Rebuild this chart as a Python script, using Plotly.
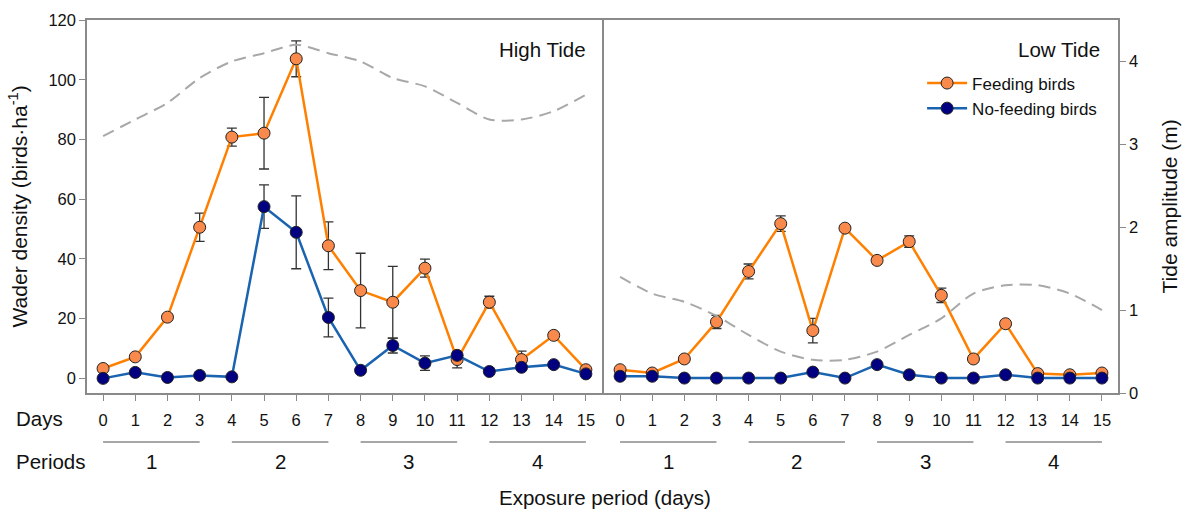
import plotly.graph_objects as go

# ---------------- data ----------------
days = list(range(16))
day_labels = [str(d) for d in days]

high_feed = [3.3, 7.2, 20.5, 50.6, 80.8, 82.1, 107.0, 44.4, 29.4, 25.5, 36.9, 6.3, 25.5, 6.3, 14.4, 2.9]
high_feed_err = [0.8, 1.0, 1.0, 4.7, 3.0, 12.0, 6.0, 8.0, 12.5, 12.0, 3.0, 2.8, 2.0, 2.8, 1.0, 0.8]
high_nofeed = [0.0, 2.0, 0.3, 1.0, 0.5, 57.5, 48.9, 20.4, 2.7, 11.0, 5.1, 7.7, 2.3, 3.7, 4.6, 1.5]
high_nofeed_err = [0.3, 0.8, 0.3, 0.5, 0.3, 7.3, 12.2, 6.5, 0.8, 2.5, 2.4, 1.0, 0.5, 0.5, 0.5, 0.5]

low_feed = [2.9, 1.8, 6.5, 18.9, 35.8, 51.8, 16.0, 50.3, 39.5, 45.8, 27.8, 6.5, 18.3, 1.6, 1.2, 1.8]
low_feed_err = [0.5, 0.5, 1.0, 2.2, 2.5, 2.6, 4.1, 1.0, 1.2, 1.9, 2.4, 1.0, 1.0, 0.5, 0.5, 0.5]
low_nofeed = [0.7, 0.7, 0.1, 0.1, 0.1, 0.1, 2.1, 0.1, 4.6, 1.2, 0.1, 0.1, 1.2, 0.1, 0.1, 0.1]
low_nofeed_err = [0.3, 0.3, 0.2, 0.2, 0.2, 0.2, 0.5, 0.2, 0.6, 0.4, 0.2, 0.2, 0.3, 0.2, 0.2, 0.2]

high_tide = [3.1, 3.3, 3.5, 3.8, 4.0, 4.1, 4.2, 4.1, 4.0, 3.8, 3.7, 3.5, 3.3, 3.3, 3.4, 3.6]
low_tide = [1.4, 1.2, 1.1, 0.93, 0.7, 0.5, 0.4, 0.4, 0.5, 0.7, 0.9, 1.2, 1.3, 1.3, 1.2, 1.0]

periods = ["1", "2", "3", "4"]
period_days = [(0, 3), (4, 7), (8, 11), (12, 15)]

density_ticks = [0, 20, 40, 60, 80, 100, 120]
tide_ticks = [0, 1, 2, 3, 4]

# ---------------- style ----------------
FONT = "Liberation Sans, Arial, sans-serif"
ORANGE_LINE = "#FF8000"
ORANGE_FILL = "#F98A4C"
BLUE_LINE = "#1A63B0"
BLUE_FILL = "#000080"
GRAY_AX = "#8a8a8a"
DASH_GRAY = "#A8A8A8"
ERR_COL = "#333333"

fig = go.Figure()

panels = [
    ("x", "y", "y3", high_feed, high_feed_err, high_nofeed, high_nofeed_err, high_tide, True),
    ("x2", "y2", "y4", low_feed, low_feed_err, low_nofeed, low_nofeed_err, low_tide, False),
]

for xa, ya, yt, feed, feed_err, nofeed, nofeed_err, tide, first in panels:
    fig.add_trace(go.Scatter(
        x=days, y=tide, xaxis=xa, yaxis=yt, mode="lines",
        line=dict(color=DASH_GRAY, width=2, dash="12px,7px", shape="spline", smoothing=0.8),
        showlegend=False, hoverinfo="skip"))
for xa, ya, yt, feed, feed_err, nofeed, nofeed_err, tide, first in panels:
    fig.add_trace(go.Scatter(
        x=days, y=feed, xaxis=xa, yaxis=ya, mode="lines+markers",
        name="Feeding birds", showlegend=first,
        line=dict(color=ORANGE_LINE, width=2.5),
        marker=dict(size=12, color=ORANGE_FILL, line=dict(color="#222222", width=1)),
        error_y=dict(type="data", array=feed_err, visible=True, color=ERR_COL, thickness=1.3, width=5)))
    fig.add_trace(go.Scatter(
        x=days, y=nofeed, xaxis=xa, yaxis=ya, mode="lines+markers",
        name="No-feeding birds", showlegend=first,
        line=dict(color=BLUE_LINE, width=2.5),
        marker=dict(size=12, color=BLUE_FILL, line=dict(color="#222222", width=1)),
        error_y=dict(type="data", array=nofeed_err, visible=True, color=ERR_COL, thickness=1.3, width=5)))

xcommon = dict(
    range=[-0.5, 15.5], tickmode="array", tickvals=days, ticktext=day_labels,
    ticks="outside", ticklen=6, tickcolor=GRAY_AX, tickwidth=1.2,
    showline=True, linecolor=GRAY_AX, linewidth=1.5, mirror=True,
    showgrid=False, zeroline=False,
    tickfont=dict(family=FONT, size=16.5, color="#111"), ticklabelstandoff=5,
)

fig.update_layout(
    width=1182, height=511,
    margin=dict(l=87, r=64, t=20, b=118),
    paper_bgcolor="white", plot_bgcolor="white",
    font=dict(family=FONT, color="#111"),
    xaxis=dict(domain=[0, 0.4995], anchor="y", **xcommon),
    xaxis2=dict(domain=[0.5015, 1], anchor="y2", **xcommon),
    yaxis=dict(range=[-4.9, 120], tickvals=density_ticks, ticks="outside", ticklen=6,
               tickcolor=GRAY_AX, tickwidth=1.2, showline=True, linecolor=GRAY_AX,
               linewidth=1.5, mirror=True, showgrid=False, zeroline=False,
               tickfont=dict(family=FONT, size=16.5, color="#111"), anchor="x"),
    yaxis2=dict(range=[-4.9, 120], showticklabels=False, ticks="", showline=True,
                linecolor=GRAY_AX, linewidth=1.5, mirror=False, showgrid=False,
                zeroline=False, anchor="x2"),
    yaxis3=dict(range=[0, 4.5], overlaying="y", anchor="x", side="right",
                visible=False, showgrid=False, zeroline=False),
    yaxis4=dict(range=[0, 4.5], overlaying="y2", anchor="x2", side="right",
                tickvals=tide_ticks, ticks="outside", ticklen=6, tickcolor=GRAY_AX,
                tickwidth=1.2, showline=True, linecolor=GRAY_AX, linewidth=1.5,
                showgrid=False, zeroline=False,
                tickfont=dict(family=FONT, size=16.5, color="#111")),
    legend=dict(x=0.81, y=0.878, xanchor="left", yanchor="top",
                bgcolor="rgba(0,0,0,0)", font=dict(family=FONT, size=17, color="#111"),
                itemwidth=40, tracegroupgap=0),
    showlegend=True,
)

ann_font = dict(family=FONT, size=20.5, color="#111")
annotations = [
    dict(text="High Tide", xref="x domain", yref="paper", x=0.973, y=0.922,
         xanchor="right", yanchor="middle", showarrow=False, font=ann_font),
    dict(text="Low Tide", xref="x2 domain", yref="paper", x=0.969, y=0.922,
         xanchor="right", yanchor="middle", showarrow=False, font=ann_font),
    dict(text="Wader density (birds·ha<sup>-1</sup>)", xref="paper", yref="paper",
         x=-0.067, y=0.5, textangle=-90, xanchor="center", yanchor="middle",
         showarrow=False, font=dict(family=FONT, size=21, color="#111")),
    dict(text="Tide amplitude (m)", xref="paper", yref="paper",
         x=1.0504, y=0.5, textangle=-90, xanchor="center", yanchor="middle",
         showarrow=False, font=dict(family=FONT, size=21, color="#111")),
    dict(text="Days", xref="paper", yref="paper", x=-0.0708, y=(393 - 418) / 373,
         xanchor="left", yanchor="middle", showarrow=False, font=ann_font),
    dict(text="Periods", xref="paper", yref="paper", x=-0.0708, y=(393 - 462) / 373,
         xanchor="left", yanchor="middle", showarrow=False, font=ann_font),
    dict(text="Exposure period (days)", xref="paper", yref="paper", x=0.502,
         y=(393 - 497) / 373, xanchor="center", yanchor="middle", showarrow=False,
         font=ann_font),
]

shapes = []
for xa in ["x", "x2"]:
    for lab, (d0, d1) in zip(periods, period_days):
        shapes.append(dict(type="line", xref=xa, yref="paper", x0=d0, x1=d1,
                           y0=(393 - 442) / 373, y1=(393 - 442) / 373,
                           line=dict(color=GRAY_AX, width=1.5)))
        annotations.append(dict(text=lab, xref=xa, yref="paper", x=(d0 + d1) / 2,
                                y=(393 - 462) / 373, xanchor="center", yanchor="middle",
                                showarrow=False, font=ann_font))

fig.update_layout(annotations=annotations, shapes=shapes)

fig.write_html("out.html")
